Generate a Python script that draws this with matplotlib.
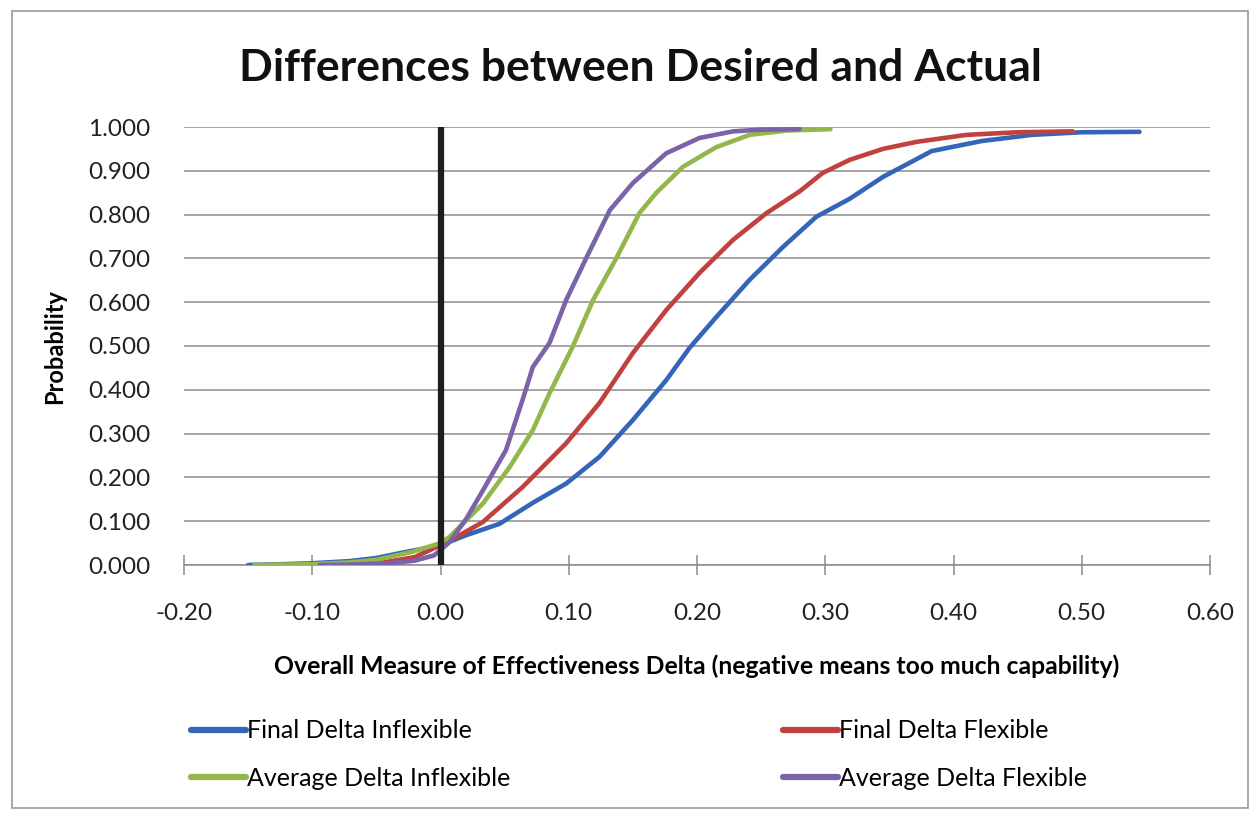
import matplotlib.pyplot as plt
from matplotlib.patches import Rectangle

# (x = delta, y = cumulative probability)
fin_inflex_x = [-0.15, -0.12, -0.10, -0.07, -0.05, -0.03, 0.0, 0.02, 0.046, 0.072, 0.098, 0.124,
                0.150, 0.176, 0.194, 0.215, 0.241, 0.267, 0.293, 0.319, 0.345, 0.383, 0.422,
                0.461, 0.50, 0.545]
fin_inflex_y = [0.0, 0.002, 0.004, 0.009, 0.016, 0.028, 0.045, 0.068, 0.094, 0.142, 0.186, 0.247,
                0.331, 0.422, 0.495, 0.566, 0.651, 0.726, 0.795, 0.836, 0.886, 0.945, 0.968,
                0.982, 0.988, 0.989]

fin_flex_x = [-0.10, -0.07, -0.04, -0.02, 0.007, 0.033, 0.064, 0.098, 0.124, 0.150, 0.176,
              0.202, 0.228, 0.254, 0.280, 0.298, 0.319, 0.345, 0.371, 0.410, 0.45, 0.493]
fin_flex_y = [0.0, 0.002, 0.008, 0.018, 0.055, 0.098, 0.178, 0.278, 0.37, 0.484, 0.582,
              0.667, 0.742, 0.803, 0.853, 0.895, 0.925, 0.950, 0.966, 0.982, 0.988, 0.990]

avg_inflex_x = [-0.145, -0.12, -0.10, -0.07, -0.05, -0.022, 0.0, 0.007, 0.033, 0.054, 0.072,
                0.085, 0.103, 0.119, 0.137, 0.155, 0.168, 0.189, 0.215, 0.241, 0.27, 0.304]
avg_inflex_y = [0.0, 0.001, 0.002, 0.006, 0.012, 0.030, 0.050, 0.064, 0.140, 0.224, 0.308,
                0.392, 0.498, 0.605, 0.700, 0.803, 0.849, 0.909, 0.954, 0.982, 0.992, 0.995]

avg_flex_x = [-0.094, -0.07, -0.04, -0.02, -0.005, 0.007, 0.020, 0.033, 0.051, 0.064, 0.072,
              0.085, 0.098, 0.114, 0.132, 0.150, 0.176, 0.202, 0.228, 0.25, 0.28]
avg_flex_y = [0.0, 0.001, 0.004, 0.010, 0.022, 0.052, 0.105, 0.170, 0.262, 0.377, 0.452,
              0.507, 0.605, 0.703, 0.810, 0.872, 0.940, 0.975, 0.990, 0.994, 0.995]

series = [
    ("Final Delta Inflexible", fin_inflex_x, fin_inflex_y, "#3465b8"),
    ("Average Delta Inflexible", avg_inflex_x, avg_inflex_y, "#93b74a"),
    ("Final Delta Flexible", fin_flex_x, fin_flex_y, "#c0413d"),
    ("Average Delta Flexible", avg_flex_x, avg_flex_y, "#7a63a8"),
]
y_ticks = [i / 10 for i in range(11)]
x_ticks = [-0.2, -0.1, 0.0, 0.1, 0.2, 0.3, 0.4, 0.5, 0.6]

plt.rcParams['font.family'] = ['Lato', 'DejaVu Sans']

fig = plt.figure(figsize=(12.51, 8.16), dpi=100)
ax = fig.add_axes([184 / 1251, 1 - 565 / 816, 1026 / 1251, 438 / 816])

# blue at the back, purple on top
for name, xs, ys, col in [series[0], series[2], series[1], series[3]]:
    ax.plot(xs, ys, color=col, lw=3.3, solid_capstyle='round', solid_joinstyle='round',
            label=name, zorder=3)

ax.plot([0, 0], [0, 1], color='#1e1e1e', lw=4.5, zorder=4)

ax.set_xlim(-0.2, 0.6)
ax.set_ylim(0, 1)
ax.set_yticks(y_ticks)
ax.set_yticklabels([f"{v:.3f}" for v in y_ticks])
ax.set_xticks(x_ticks)
ax.set_xticklabels([f"{v:.2f}" for v in x_ticks])
ax.yaxis.grid(True, color='#8c8c8c', lw=1.1)
ax.set_axisbelow(True)
for s in ['left', 'right', 'top']:
    ax.spines[s].set_visible(False)
ax.spines['bottom'].set_color('#8c8c8c')
ax.spines['bottom'].set_linewidth(1.1)
ax.tick_params(axis='y', length=0, pad=24, labelsize=17.5, labelcolor='#222222')
ax.tick_params(axis='x', direction='inout', length=14, width=1.1, color='#8c8c8c',
               pad=20, labelsize=17.5, labelcolor='#222222')

ax.set_ylabel("Probability", fontsize=17, fontweight='bold', labelpad=16)
ax.set_xlabel("Overall Measure of Effectiveness Delta (negative means too much capability)",
              fontsize=17.8, fontweight='bold', labelpad=22)
fig.text(0.512, 1 - 68 / 816, "Differences between Desired and Actual", ha='center',
         va='center', fontsize=32, fontweight='bold', color='#111111')

h, l = ax.get_legend_handles_labels()
order = [l.index(s[0]) for s in series]
leg = fig.legend([h[i] for i in order], [l[i] for i in order], ncol=2, frameon=False,
                 loc='upper left', bbox_to_anchor=(168 / 1251, 1 - 697 / 816), fontsize=18,
                 handlelength=2.2, handletextpad=0.05, columnspacing=10.9, labelspacing=0.97)
for ln in leg.get_lines():
    ln.set_linewidth(4.5)

fig.patches.append(Rectangle((12 / 1251, 1 - 808 / 816), 1236 / 1251, 797 / 816,
                             transform=fig.transFigure, fill=False, ec='#9a9a9a', lw=1.2))

fig.savefig("out.png", dpi=100)
